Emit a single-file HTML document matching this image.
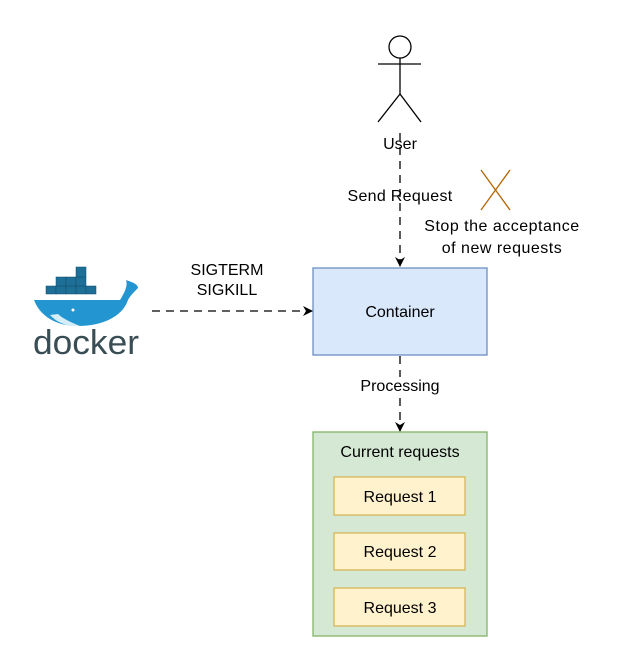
<!DOCTYPE html>
<html><head><meta charset="utf-8"><style>body{margin:0;background:#fff}svg{display:block}text{font-family:"Liberation Sans",Arial,sans-serif;font-size:16px;fill:#000}</style></head><body>
<svg width="624" height="660" viewBox="0 0 624 660">
<defs><marker id="a" viewBox="0 0 10 10" refX="9" refY="5" markerWidth="10" markerHeight="10" markerUnits="userSpaceOnUse" orient="auto"><path d="M0,0 L10,5 L0,10 L3,5 z" fill="#000"/></marker></defs>
<g stroke="#000" stroke-width="1.3" fill="none">
<circle cx="400" cy="47" r="11" fill="#fff"/>
<line x1="378" y1="64" x2="421" y2="64"/>
<line x1="400" y1="58" x2="400" y2="94"/>
<line x1="400" y1="94" x2="378" y2="122"/>
<line x1="400" y1="94" x2="421" y2="122"/>
</g>
<line x1="400" y1="133" x2="400" y2="266" stroke="#000" stroke-width="1.3" stroke-dasharray="8,6" marker-end="url(#a)"/>
<text x="400" y="149" text-anchor="middle">User</text>
<text x="400" y="201" text-anchor="middle" letter-spacing="0.3">Send Request</text>
<g stroke="#b46504" stroke-width="1.3"><line x1="481" y1="170" x2="510" y2="210"/><line x1="510" y1="170" x2="481" y2="210"/></g>
<text x="502" y="231" text-anchor="middle" font-size="17" letter-spacing="0.5">Stop the acceptance</text>
<text x="502" y="253" text-anchor="middle" font-size="17" letter-spacing="0.5">of new requests</text>
<rect x="313" y="268" width="174" height="87" fill="#dae8fc" stroke="#6c8ebf" stroke-width="1.3"/>
<text x="400" y="317" text-anchor="middle">Container</text>
<line x1="152" y1="311" x2="312" y2="311" stroke="#000" stroke-width="1.3" stroke-dasharray="8,6" marker-end="url(#a)"/>
<text x="227" y="275" text-anchor="middle">SIGTERM</text>
<text x="227" y="295" text-anchor="middle">SIGKILL</text>
<line x1="400" y1="356" x2="400" y2="431" stroke="#000" stroke-width="1.3" stroke-dasharray="8,6" marker-end="url(#a)"/>
<rect x="355" y="377" width="90" height="18" fill="#fff"/>
<text x="400" y="391" text-anchor="middle">Processing</text>
<rect x="313" y="432" width="174" height="204" fill="#d5e8d4" stroke="#82b366" stroke-width="1.3"/>
<text x="400" y="457" text-anchor="middle">Current requests</text>
<g fill="#fff2cc" stroke="#d6b656" stroke-width="1.3">
<rect x="334" y="477" width="131" height="38"/><rect x="334" y="533" width="131" height="37"/><rect x="334" y="588" width="131" height="38"/></g>
<text x="400" y="502" text-anchor="middle">Request 1</text>
<text x="400" y="557" text-anchor="middle">Request 2</text>
<text x="400" y="613" text-anchor="middle">Request 3</text>
<g>
<path d="M34,300 L120,300 C125,292 128,285 126,280 C132,282 138,284 138,288 C134,292 130,296 128,300 C122,318 100,326 78,326 C56,326 40,316 34,300 z" fill="#2396d1"/>
<path d="M50,315 C58,324 70,327 80,326 C70,322 62,318 58,314 z" fill="#d4eef8"/>
<circle cx="73" cy="310" r="1.5" fill="#fff"/>
<g fill="#1e6f97" stroke="#0d4d6b" stroke-width="0.5">
<rect x="46" y="286" width="10" height="8"/><rect x="56" y="286" width="10" height="8"/><rect x="66" y="286" width="10" height="8"/><rect x="76" y="286" width="10" height="8"/><rect x="86" y="286" width="10" height="8"/>
<rect x="56" y="277" width="10" height="9"/><rect x="66" y="277" width="10" height="9"/><rect x="76" y="277" width="10" height="9"/>
<rect x="76" y="267" width="10" height="10"/>
</g>
<text x="86" y="354" text-anchor="middle" style="font-size:34px;fill:#394d54" textLength="106" lengthAdjust="spacingAndGlyphs">docker</text>
</g>
</svg>
</body></html>
